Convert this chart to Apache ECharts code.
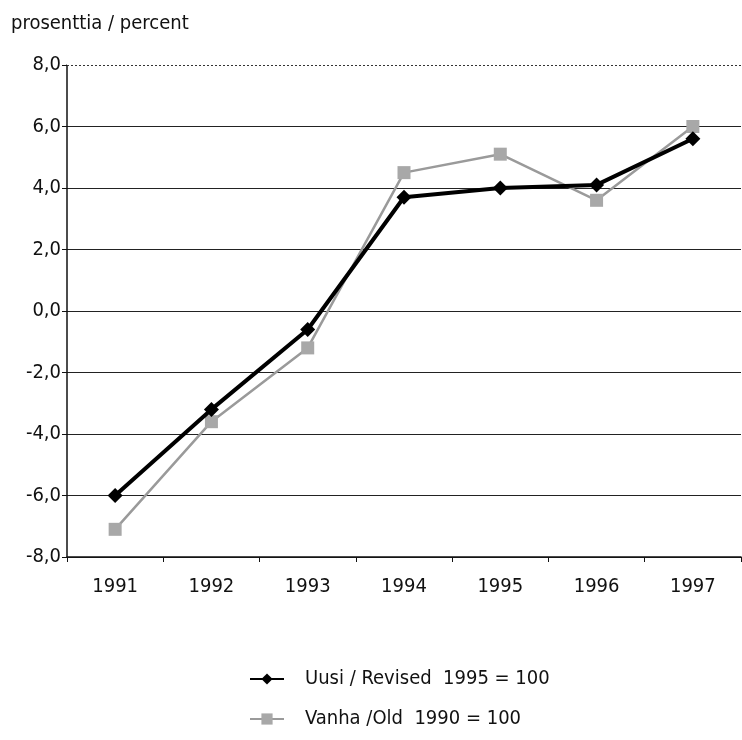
<!DOCTYPE html>
<html><head><meta charset="utf-8">
<script src="https://cdn.jsdelivr.net/npm/echarts@6/dist/echarts.min.js"></script>
<style>html,body{margin:0;padding:0;background:#fff}#c{width:742px;height:740px}</style>
</head><body><div id="c"></div>
<script>
const categories = ['1991','1992','1993','1994','1995','1996','1997'];
const revised = [-6.0, -3.2, -0.6, 3.7, 4.0, 4.1, 5.6];
const old = [-7.1, -3.6, -1.2, 4.5, 5.1, 3.6, 6.0];
const revisedName = 'Uusi / Revised  1995 = 100';
const oldName = 'Vanha /Old  1990 = 100';
const yTitle = 'prosenttia / percent';
const yMax = 8;
const FONT = '"DejaVu Sans Condensed", "Liberation Sans Narrow", sans-serif';

const chart = echarts.init(document.getElementById('c'));
chart.setOption({
  backgroundColor: '#fff',
  animation: false,
  textStyle: {fontFamily: FONT},
  title: {text: yTitle, left: 6, top: 9, textStyle: {fontFamily: FONT, fontSize: 20, fontWeight: 'normal', color: '#111'}},
  grid: {left: 67, right: 1, top: 65, bottom: 183},
  legend: {
    orient: 'vertical', left: 244, top: 664, itemGap: 20, itemWidth: 34, itemHeight: 14,
    textStyle: {fontFamily: FONT, fontSize: 20, color: '#111', padding: [0,0,0,16]},
    data: [revisedName, oldName]
  },
  xAxis: {
    type: 'category', data: categories, boundaryGap: true,
    axisLine: {onZero: false, lineStyle: {color: '#111', width: 1.5}},
    axisTick: {show: true, length: 5, lineStyle: {color: '#111'}},
    axisLabel: {fontFamily: FONT, fontSize: 20, color: '#111', margin: 20}
  },
  yAxis: {
    type: 'value', min: -8, max: yMax, interval: 2,
    axisLine: {show: true, lineStyle: {color: '#111', width: 1.5}},
    axisTick: {show: true, length: 5, lineStyle: {color: '#111'}},
    axisLabel: {fontFamily: FONT, fontSize: 20, color: '#111', margin: 6,
      formatter: v => v.toFixed(1).replace('.', ',')},
    splitLine: {show: true, lineStyle: {color: '#222', width: 1}}
  },
  series: [
    {name: '_mask', type: 'line', data: [], silent: true, z: 1,
      markLine: {silent: true, symbol: 'none', label: {show: false}, animation: false,
        lineStyle: {color: '#fff', width: 2, type: 'solid'}, data: [{yAxis: yMax}]}},
    {name: '_dots', type: 'line', data: [], silent: true, z: 1,
      markLine: {silent: true, symbol: 'none', label: {show: false}, animation: false,
        lineStyle: {color: '#333', width: 1, type: [2, 2]}, data: [{yAxis: yMax}]}},
    {name: oldName, type: 'line', data: old, symbol: 'rect', symbolSize: 13,
      itemStyle: {color: '#a8a8a8'}, lineStyle: {color: '#9a9a9a', width: 2.5}, z: 2},
    {name: revisedName, type: 'line', data: revised, symbol: 'diamond', symbolSize: 15,
      itemStyle: {color: '#000'}, lineStyle: {color: '#000', width: 4}, z: 3}
  ]
});
</script></body></html>
